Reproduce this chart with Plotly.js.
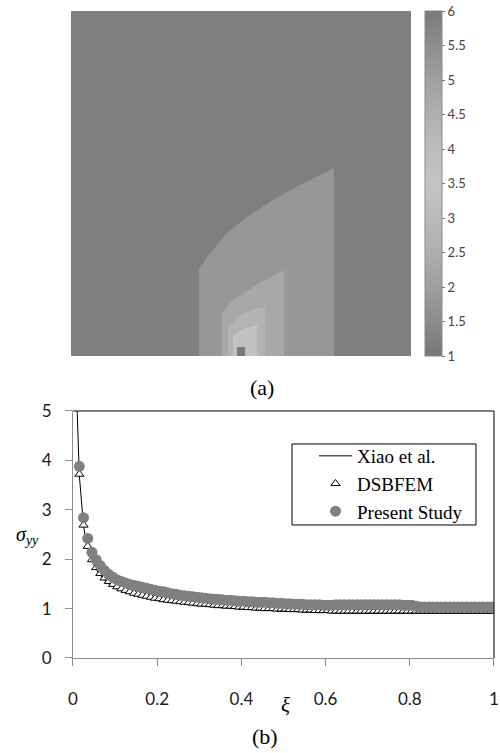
<!DOCTYPE html>
<html>
<head>
<meta charset="utf-8">
<script src="https://cdn.plot.ly/plotly-3.0.1.min.js"></script>
<style>html,body{margin:0;padding:0;background:#fff;}#chart{width:500px;height:753px;}</style>
</head>
<body>
<div id="chart"></div>
<script>
// ---------- (a) contour field data ----------
const regionNames = ["far field", "zone 1", "zone 2", "zone 3", "zone 4", "tip"];
const regionValues = [1.2, 1.8, 2.3, 2.7, 3.4, 6.0];
const regionX = [
  [-1, 1, 1, -1],
  [-0.247, -0.247, -0.2, -0.082, 0.035, 0.188, 0.347, 0.547, 0.547],
  [-0.112, -0.112, -0.047, 0.071, 0.253, 0.253],
  [-0.076, -0.076, -0.006, 0.065, 0.141, 0.141],
  [-0.047, -0.047, 0.024, 0.094, 0.094],
  [-0.024, -0.024, 0.024, 0.024]
];
const regionY = [
  [0, 0, 2, 2],
  [0, 0.504, 0.574, 0.713, 0.806, 0.904, 0.991, 1.09, 0],
  [0, 0.249, 0.325, 0.40, 0.499, 0],
  [0, 0.162, 0.238, 0.267, 0.284, 0],
  [0, 0.122, 0.162, 0.18, 0],
  [0, 0.052, 0.052, 0]
];
const cbTickVals = [1, 1.5, 2, 2.5, 3, 3.5, 4, 4.5, 5, 5.5, 6];
const cbTickText = ["1", "1.5", "2", "2.5", "3", "3.5", "4", "4.5", "5", "5.5", "6"];

// ---------- (b) sigma_yy data ----------
const xi = [
  0.015,0.025,0.035,0.045,0.055,0.065,0.075,0.085,0.095,0.105,
  0.115,0.125,0.135,0.145,0.155,0.165,0.175,0.185,0.195,0.205,
  0.215,0.225,0.235,0.245,0.255,0.265,0.275,0.285,0.295,0.305,
  0.315,0.325,0.335,0.345,0.355,0.365,0.375,0.385,0.395,0.405,
  0.415,0.425,0.435,0.445,0.455,0.465,0.475,0.485,0.495,0.505,
  0.515,0.525,0.535,0.545,0.555,0.565,0.575,0.585,0.595,0.605,
  0.615,0.625,0.635,0.645,0.655,0.665,0.675,0.685,0.695,0.705,
  0.715,0.725,0.735,0.745,0.755,0.765,0.775,0.785,0.795,0.805,
  0.815,0.825,0.835,0.845,0.855,0.865,0.875,0.885,0.895,0.905,
  0.915,0.925,0.935,0.945,0.955,0.965,0.975,0.985,0.995
];
const presentStudy = [
  3.88,2.84,2.42,2.14,1.99,1.87,1.77,1.69,1.63,1.58,
  1.55,1.52,1.49,1.47,1.45,1.43,1.41,1.39,1.37,1.35,
  1.34,1.32,1.30,1.29,1.27,1.26,1.25,1.24,1.23,1.22,
  1.21,1.20,1.19,1.19,1.18,1.17,1.17,1.16,1.15,1.15,
  1.14,1.14,1.13,1.13,1.13,1.12,1.12,1.11,1.11,1.10,
  1.10,1.09,1.09,1.09,1.08,1.08,1.08,1.08,1.07,1.07,
  1.07,1.08,1.08,1.08,1.08,1.08,1.08,1.08,1.08,1.08,
  1.08,1.08,1.08,1.08,1.08,1.08,1.08,1.07,1.07,1.07,
  1.05,1.03,1.03,1.03,1.03,1.03,1.03,1.03,1.03,1.03,
  1.03,1.03,1.03,1.03,1.03,1.03,1.03,1.03,1.03
];
const dsbfem = [
  3.72,2.69,2.26,1.99,1.83,1.71,1.62,1.55,1.49,1.44,
  1.40,1.37,1.34,1.31,1.29,1.27,1.25,1.23,1.21,1.20,
  1.18,1.17,1.16,1.15,1.14,1.13,1.12,1.11,1.10,1.09,
  1.09,1.08,1.07,1.06,1.06,1.05,1.05,1.04,1.03,1.03,
  1.02,1.02,1.01,1.01,1.00,1.00,1.00,0.99,0.99,0.99,
  0.98,0.98,0.98,0.97,0.97,0.97,0.96,0.96,0.96,0.96,
  0.95,0.95,0.95,0.95,0.95,0.95,0.95,0.95,0.95,0.95,
  0.95,0.95,0.95,0.95,0.95,0.95,0.95,0.95,0.95,0.95,
  0.95,0.95,0.95,0.95,0.95,0.95,0.95,0.95,0.95,0.95,
  0.95,0.95,0.95,0.95,0.95,0.95,0.95,0.95,0.95
];
const xiaoXi = [0.007,0.01,0.015,0.02,0.025,0.03,0.035,0.045,0.06,0.08,0.1,0.125,0.15,0.2,0.25,0.3,0.35,0.4,0.45,0.5,0.6,0.7,0.8,0.9,1.0];
const xiao   = [7.0,5.0,3.7,3.1,2.68,2.42,2.23,1.96,1.72,1.53,1.42,1.33,1.27,1.17,1.11,1.06,1.02,0.99,0.97,0.95,0.92,0.91,0.91,0.91,0.91];
const seriesNames = ["Xiao et al.", "DSBFEM", "Present Study"];
const xTickVals = [0, 0.2, 0.4, 0.6, 0.8, 1];
const yTickVals = [0, 1, 2, 3, 4, 5];

// ---------- colour scale ----------
const cmin = 1, cmax = 6;
const colorscale = [
  [0.0, '#777777'], [0.1, '#8c8c8c'], [0.2, '#9e9e9e'], [0.3, '#aeaeae'],
  [0.4, '#bababa'], [0.5, '#c4c4c4'], [0.6, '#bcbcbc'], [0.7, '#b0b0b0'],
  [0.8, '#a0a0a0'], [0.9, '#8e8e8e'], [1.0, '#7a7a7a']
];
function hexToRgb(h){ return [parseInt(h.substr(1,2),16), parseInt(h.substr(3,2),16), parseInt(h.substr(5,2),16)]; }
function colorFor(v){
  const t = Math.max(0, Math.min(1, (v - cmin) / (cmax - cmin)));
  for (let i = 1; i < colorscale.length; i++) {
    if (t <= colorscale[i][0]) {
      const a = colorscale[i-1], b = colorscale[i];
      const f = (t - a[0]) / (b[0] - a[0]);
      const ca = hexToRgb(a[1]), cb = hexToRgb(b[1]);
      const c = ca.map((x, k) => Math.round(x + (cb[k] - x) * f));
      return 'rgb(' + c.join(',') + ')';
    }
  }
  return colorscale[colorscale.length-1][1];
}

const traces = [];
regionNames.forEach((n, i) => {
  traces.push({
    type: 'scatter', mode: 'lines', name: n, x: regionX[i], y: regionY[i],
    xaxis: 'x', yaxis: 'y', fill: 'toself', fillcolor: colorFor(regionValues[i]),
    line: {width: 0, color: colorFor(regionValues[i])}, showlegend: false, hoverinfo: 'skip'
  });
});
// colour bar carrier (points are outside the visible range)
traces.push({
  type: 'scatter', mode: 'markers', x: [5, 5], y: [5, 5], xaxis: 'x', yaxis: 'y',
  showlegend: false, hoverinfo: 'skip',
  marker: {
    color: [cmin, cmax], cmin: cmin, cmax: cmax, colorscale: colorscale, showscale: true, size: 1,
    colorbar: {
      x: 0.8369, xanchor: 'left', xpad: 0, y: 1, yanchor: 'top', ypad: 0,
      len: 345, lenmode: 'pixels', thickness: 17, thicknessmode: 'pixels',
      outlinewidth: 1, outlinecolor: '#8a8a8a',
      tickvals: cbTickVals, ticktext: cbTickText, ticks: 'outside', ticklen: 3, tickcolor: '#777',
      tickfont: {family: 'Lato, sans-serif', size: 13, color: '#444'}
    }
  }
});
traces.push({
  type: 'scatter', mode: 'lines', name: seriesNames[0], x: xiaoXi, y: xiao,
  xaxis: 'x2', yaxis: 'y2', line: {color: '#000', width: 1}
});
traces.push({
  type: 'scatter', mode: 'markers', name: seriesNames[1], x: xi, y: dsbfem,
  xaxis: 'x2', yaxis: 'y2',
  marker: {symbol: 'triangle-up', size: 8, color: '#fff', line: {color: '#000', width: 1}}
});
traces.push({
  type: 'scatter', mode: 'markers', name: seriesNames[2], x: xi, y: presentStudy,
  xaxis: 'x2', yaxis: 'y2',
  marker: {symbol: 'circle', size: 11, color: '#808080'}
});
// carrier for the tick-label axis of (b) (no points)
traces.push({
  type: 'scatter', mode: 'markers', x: [], y: [], xaxis: 'x3', yaxis: 'y2',
  showlegend: false, hoverinfo: 'skip'
});

const axisGrey = '#8c8c8c';
const serif = 'Liberation Serif, Times New Roman, serif';
const layout = {
  width: 500, height: 753,
  margin: {l: 71, r: 6, t: 11, b: 95, pad: 0},
  paper_bgcolor: '#fff', plot_bgcolor: '#fff',
  showlegend: true,
  xaxis: {domain: [0, 0.8038], range: [-1, 1], visible: false, fixedrange: true, anchor: 'y'},
  yaxis: {domain: [0.4668, 1], range: [0, 2], visible: false, fixedrange: true, anchor: 'x'},
  xaxis2: {
    domain: [0.0047, 1], range: [0, 1], anchor: 'y2', tickvals: xTickVals,
    showline: true, linecolor: axisGrey, linewidth: 1, ticks: 'outside', ticklen: 7, tickcolor: axisGrey,
    showgrid: false, zeroline: false, showticklabels: false
  },
  xaxis3: {
    domain: [0.0047, 1], range: [0, 1], anchor: 'y2', overlaying: 'x2', tickvals: xTickVals,
    showline: false, ticks: 'outside', ticklen: 26, tickcolor: 'rgba(0,0,0,0)',
    showgrid: false, zeroline: false, showticklabels: true,
    tickfont: {family: 'Lato, sans-serif', size: 17, color: '#1a1a1a'}
  },
  yaxis2: {
    domain: [0, 0.3818], range: [0, 5], anchor: 'x2', tickvals: yTickVals,
    showline: true, linecolor: axisGrey, linewidth: 1, ticks: 'outside', ticklen: 7, tickcolor: axisGrey,
    showgrid: false, zeroline: false, ticklabelstandoff: 10,
    tickfont: {family: 'Lato, sans-serif', size: 17, color: '#1a1a1a'}
  },
  legend: {
    x: 0.5745, y: 0.3416, xanchor: 'left', yanchor: 'top',
    bgcolor: 'rgba(0,0,0,0)', borderwidth: 0,
    font: {family: serif, size: 19, color: '#000'},
    itemwidth: 33, tracegroupgap: 0
  },
  shapes: [
    {type: 'line', xref: 'x2 domain', yref: 'y2 domain', x0: 0, x1: 1, y0: 1, y1: 1, line: {color: '#000', width: 1}},
    {type: 'line', xref: 'x2 domain', yref: 'y2 domain', x0: 1, x1: 1, y0: 0, y1: 1, line: {color: '#000', width: 1}},
    {type: 'rect', xref: 'paper', yref: 'paper', x0: 0.5225, x1: 0.9574, y0: 0.2056, y1: 0.3308,
     fillcolor: '#fff', line: {color: '#000', width: 1}, layer: 'above'}
  ],
  annotations: [
    {xref: 'paper', yref: 'paper', x: 0.4515, y: 0.418, xanchor: 'center', yanchor: 'middle', text: '(a)', showarrow: false,
     font: {family: serif, size: 22, color: '#000'}},
    {xref: 'paper', yref: 'paper', x: 0.4586, y: -0.1221, xanchor: 'center', yanchor: 'middle', text: '(b)', showarrow: false,
     font: {family: serif, size: 22, color: '#000'}},
    {xref: 'paper', yref: 'paper', x: 0.506, y: -0.0726, xanchor: 'center', yanchor: 'middle', text: '<i>ξ</i>', showarrow: false,
     font: {family: serif, size: 21, color: '#000'}},
    {xref: 'paper', yref: 'paper', x: -0.104, y: 0.190, xanchor: 'center', yanchor: 'middle', text: '<i>σ<sub>yy</sub></i>', showarrow: false,
     font: {family: serif, size: 20, color: '#000'}}
  ]
};

Plotly.newPlot('chart', traces, layout, {displayModeBar: false, staticPlot: true});
</script>
</body>
</html>
